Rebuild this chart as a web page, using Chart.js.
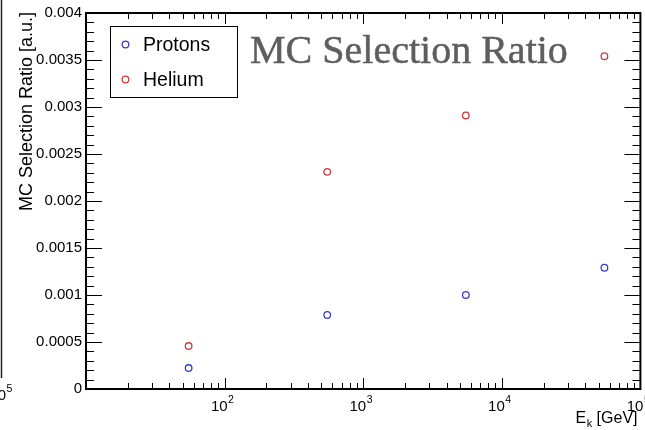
<!DOCTYPE html>
<html>
<head>
<meta charset="utf-8">
<script src="https://cdn.jsdelivr.net/npm/chart.js@4/dist/chart.umd.min.js"></script>
<style>
html,body{margin:0;padding:0;background:#fff;}
canvas{display:block;}
</style>
</head>
<body>
<canvas id="c" width="645" height="430"></canvas>
<script>
// ---- data ----
const energies = [55, 550, 5500, 55000];            // E_k [GeV]
const protonRatio = [0.000223, 0.000787, 0.001, 0.00129];
const heliumRatio = [0.000457, 0.00231, 0.00291, 0.00354];
const seriesNames = ['Protons', 'Helium'];
const xTickExponents = [2, 3, 4, 5];
const yTickValues = [0, 0.0005, 0.001, 0.0015, 0.002, 0.0025, 0.003, 0.0035, 0.004];
const chartTitle = 'MC Selection Ratio';
const yTitle = 'MC Selection Ratio [a.u.]';

const SANS = '"Liberation Sans", Arial, Helvetica, sans-serif';
const SERIF = '"Liberation Serif", "Times New Roman", serif';
const BLUE = 'rgb(60,60,205)';
const RED = 'rgb(205,60,60)';

function pts(xs, ys){ return xs.map((x,i)=>({x:x, y:ys[i]})); }

const decor = {
  id: 'decor',
  afterDraw(chart){
    const ctx = chart.ctx;
    const a = chart.chartArea;
    const xs = chart.scales.x, ys = chart.scales.y;
    ctx.save();
    // frame
    ctx.strokeStyle = '#000';
    ctx.lineWidth = 2;
    ctx.strokeRect(a.left, a.top, a.right - a.left, a.bottom - a.top);
    // x ticks (log)
    ctx.lineWidth = 1;
    ctx.beginPath();
    for (let d = 1; d < 5; d++) {
      for (let k = 1; k <= 9; k++) {
        const v = k * Math.pow(10, d);
        if (v <= 10 || v >= 1e5) continue;
        const px = Math.round(xs.getPixelForValue(v)) + 0.5;
        const len = (k === 1) ? 11 : 6;
        ctx.moveTo(px, a.bottom); ctx.lineTo(px, a.bottom - len);
        ctx.moveTo(px, a.top); ctx.lineTo(px, a.top + len);
      }
    }
    // y ticks
    for (let i = 1; i < 40; i++) {
      const v = i * 0.0001;
      const py = Math.round(ys.getPixelForValue(v)) + 0.5;
      const major = (i % 5 === 0);
      const len = major ? 16 : 8;
      ctx.moveTo(a.left, py); ctx.lineTo(a.left + len, py);
      ctx.moveTo(a.right, py); ctx.lineTo(a.right - len, py);
    }
    ctx.stroke();

    // x tick labels 10^n
    ctx.fillStyle = '#000';
    ctx.textBaseline = 'alphabetic';
    xTickExponents.forEach(e => {
      const px = xs.getPixelForValue(Math.pow(10, e));
      ctx.font = '15px ' + SANS;
      const w1 = ctx.measureText('10').width;
      const x0 = px - w1 + 3;
      ctx.textAlign = 'left';
      ctx.fillText('10', x0, 411);
      ctx.font = '10.5px ' + SANS;
      ctx.fillText(String(e), x0 + w1 + 0.5, 403);
    });

    // x title E_k [GeV]
    const tE = 'E', tRest = ' [GeV]';
    ctx.font = '16px ' + SANS;
    const wE = ctx.measureText(tE).width;
    const wR = ctx.measureText(tRest).width;
    ctx.font = '11px ' + SANS;
    const wk = ctx.measureText('k').width;
    const xEnd = 637;
    let xx = xEnd - wE - wk - wR;
    ctx.textAlign = 'left';
    ctx.font = '16px ' + SANS;
    ctx.fillText(tE, xx, 423);
    ctx.font = '11px ' + SANS;
    ctx.fillText('k', xx + wE + 0.5, 427);
    ctx.font = '16px ' + SANS;
    ctx.fillText(tRest, xx + wE + wk + 0.5, 423);

    // y title
    ctx.save();
    ctx.translate(32, 12);
    ctx.rotate(-Math.PI / 2);
    ctx.textAlign = 'right';
    ctx.font = '18px ' + SANS;
    ctx.fillText(yTitle, 0, 0);
    ctx.restore();

    // title
    ctx.fillStyle = '#5e5e5e';
    ctx.textAlign = 'left';
    let fs = 40;
    ctx.font = fs + 'px ' + SERIF;
    const tw = ctx.measureText(chartTitle).width;
    fs = fs * 318 / tw;
    ctx.font = fs + 'px ' + SERIF;
    ctx.fillText(chartTitle, 250, 63);
    ctx.lineWidth = 0.5;
    ctx.strokeStyle = '#5e5e5e';
    ctx.strokeText(chartTitle, 250, 63);

    // legend
    ctx.strokeStyle = '#000';
    ctx.lineWidth = 1;
    ctx.fillStyle = '#fff';
    ctx.fillRect(110.5, 26.5, 127, 71);
    ctx.strokeRect(110.5, 26.5, 127, 71);
    const rows = [44.5, 79.5];
    chart.data.datasets.forEach((ds, i) => {
      ctx.beginPath();
      ctx.strokeStyle = ds.borderColor;
      ctx.lineWidth = 1.3;
      ctx.arc(125.5, rows[i], 3.3, 0, Math.PI * 2);
      ctx.stroke();
      ctx.fillStyle = '#000';
      ctx.font = '19.5px ' + SANS;
      ctx.textAlign = 'left';
      ctx.textBaseline = 'middle';
      ctx.fillText(ds.label, 143, rows[i] + 1);
    });

    // fragment of neighbouring panel at left edge
    ctx.textBaseline = 'alphabetic';
    ctx.strokeStyle = '#222';
    ctx.lineWidth = 1.5;
    ctx.beginPath();
    ctx.moveTo(1.5, 0); ctx.lineTo(1.5, 378);
    ctx.stroke();
    ctx.fillStyle = '#000';
    ctx.font = '15px ' + SANS;
    ctx.textAlign = 'right';
    ctx.fillText('10', 6, 400);
    ctx.font = '10.5px ' + SANS;
    ctx.textAlign = 'left';
    ctx.fillText('5', 6.5, 392);
    ctx.restore();
  }
};

new Chart(document.getElementById('c'), {
  type: 'scatter',
  data: {
    datasets: [
      { label: seriesNames[0], data: pts(energies, protonRatio), borderColor: BLUE,
        backgroundColor: 'rgba(0,0,0,0)', pointRadius: 3.3, pointBorderWidth: 1.3, pointHoverRadius: 3.3 },
      { label: seriesNames[1], data: pts(energies, heliumRatio), borderColor: RED,
        backgroundColor: 'rgba(0,0,0,0)', pointRadius: 3.3, pointBorderWidth: 1.3, pointHoverRadius: 3.3 }
    ]
  },
  options: {
    responsive: false,
    animation: false,
    events: [],
    layout: { padding: { left: 0, top: 13, right: 4, bottom: 0 } },
    plugins: { legend: { display: false }, tooltip: { enabled: false }, title: { display: false } },
    scales: {
      x: {
        type: 'logarithmic', min: 10, max: 100000,
        grid: { display: false, drawTicks: false },
        border: { display: false },
        ticks: { display: false },
        afterFit(s){ s.height = 41; }
      },
      y: {
        type: 'linear', min: 0, max: 0.004,
        grid: { display: false, drawTicks: false },
        border: { display: false },
        afterBuildTicks(s){ s.ticks = yTickValues.map(v => ({ value: v })); },
        ticks: {
          color: '#000',
          font: { family: SANS, size: 15 },
          padding: 4,
          callback: v => v === 0 ? '0' : String(+Number(v).toFixed(4))
        },
        afterFit(s){ s.width = 86; }
      }
    }
  },
  plugins: [decor]
});
</script>
</body>
</html>
